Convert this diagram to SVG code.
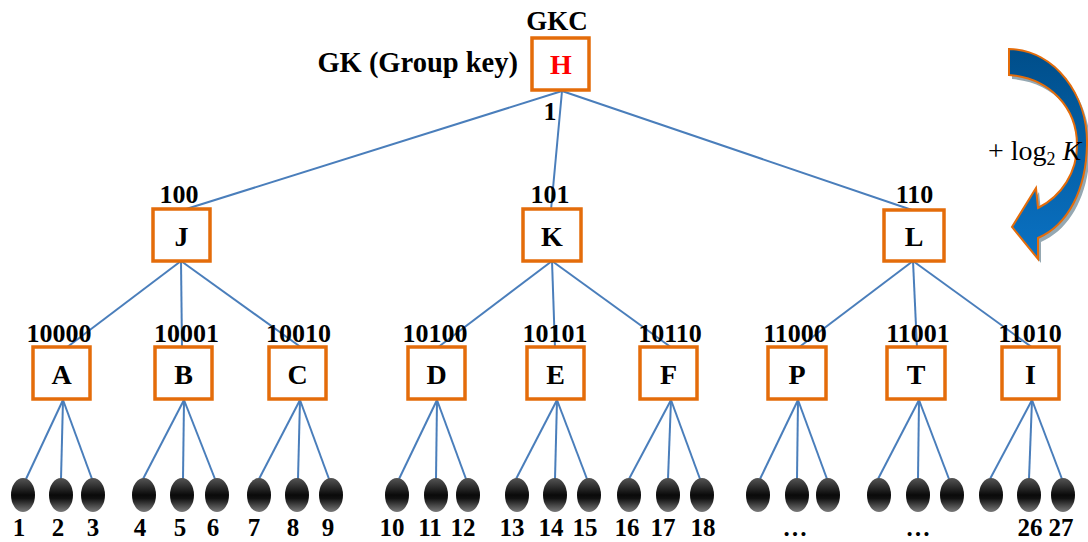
<svg xmlns="http://www.w3.org/2000/svg" width="1088" height="542" viewBox="0 0 1088 542">
<style>
.t{font-family:"Liberation Serif","Times New Roman",serif;font-weight:bold;font-size:26px;text-anchor:middle;fill:#000}
.n{font-size:28px}
.lb{font-size:25px}
.box{fill:#fff;stroke:#E46C0A;stroke-width:3.5}
.c{stroke:#4A7EBB;stroke-width:2;fill:none}
.leaf{fill:url(#lg)}
</style>
<defs>
<linearGradient id="lg" x1="0" y1="0" x2="0" y2="1">
<stop offset="0" stop-color="#555"/>
<stop offset="0.5" stop-color="#0a0a0a"/>
<stop offset="0.6" stop-color="#111"/>
<stop offset="1" stop-color="#7a7a7a"/>
</linearGradient>
<linearGradient id="ag" x1="0" y1="0" x2="0" y2="1">
<stop offset="0" stop-color="#004E8A"/>
<stop offset="1" stop-color="#0A72C4"/>
</linearGradient>
</defs>
<rect width="1088" height="542" fill="#fff"/>

<g id="connectors">
<line class="c" x1="562" y1="91" x2="183" y2="210"/>
<line class="c" x1="562" y1="91" x2="551" y2="210"/>
<line class="c" x1="562" y1="91" x2="912" y2="210"/>
<line class="c" x1="181" y1="261" x2="66" y2="348"/>
<line class="c" x1="181" y1="261" x2="182" y2="348"/>
<line class="c" x1="181" y1="261" x2="302" y2="348"/>
<line class="c" x1="552" y1="261" x2="437" y2="348"/>
<line class="c" x1="552" y1="261" x2="555" y2="348"/>
<line class="c" x1="552" y1="261" x2="672" y2="348"/>
<line class="c" x1="913" y1="261" x2="798" y2="348"/>
<line class="c" x1="913" y1="261" x2="917" y2="348"/>
<line class="c" x1="913" y1="261" x2="1033" y2="348"/>
<line class="c" x1="63" y1="400" x2="26" y2="479"/>
<line class="c" x1="63" y1="400" x2="61" y2="479"/>
<line class="c" x1="63" y1="400" x2="92" y2="479"/>
<line class="c" x1="184" y1="400" x2="143" y2="479"/>
<line class="c" x1="184" y1="400" x2="183" y2="479"/>
<line class="c" x1="184" y1="400" x2="215" y2="479"/>
<line class="c" x1="300" y1="400" x2="259" y2="479"/>
<line class="c" x1="300" y1="400" x2="298" y2="479"/>
<line class="c" x1="300" y1="400" x2="329" y2="479"/>
<line class="c" x1="437" y1="400" x2="399" y2="479"/>
<line class="c" x1="437" y1="400" x2="436" y2="479"/>
<line class="c" x1="437" y1="400" x2="466" y2="479"/>
<line class="c" x1="557" y1="400" x2="516" y2="479"/>
<line class="c" x1="557" y1="400" x2="555" y2="479"/>
<line class="c" x1="557" y1="400" x2="587" y2="479"/>
<line class="c" x1="671" y1="400" x2="629" y2="479"/>
<line class="c" x1="671" y1="400" x2="668" y2="479"/>
<line class="c" x1="671" y1="400" x2="700" y2="479"/>
<line class="c" x1="798" y1="400" x2="760" y2="479"/>
<line class="c" x1="798" y1="400" x2="797" y2="479"/>
<line class="c" x1="798" y1="400" x2="827" y2="479"/>
<line class="c" x1="919" y1="400" x2="878" y2="479"/>
<line class="c" x1="919" y1="400" x2="918" y2="479"/>
<line class="c" x1="919" y1="400" x2="949" y2="479"/>
<line class="c" x1="1032" y1="400" x2="990" y2="479"/>
<line class="c" x1="1032" y1="400" x2="1029" y2="479"/>
<line class="c" x1="1032" y1="400" x2="1062" y2="479"/>
</g>

<g id="node-H">
<rect class="box" x="532" y="38" width="57" height="52"/>
<text class="t n" x="561" y="74" style="fill:#FF0000">H</text>
<text class="t" x="557" y="30" style="font-size:27px">GKC</text>
<text class="t" x="518" y="72" style="font-size:28.5px;text-anchor:end">GK (Group key)</text>
<text class="t" x="550" y="120">1</text>
</g>

<g id="node-J"><rect class="box" x="153" y="209" width="57" height="52"/><text class="t n" x="181.5" y="246">J</text><text class="t" x="179" y="203">100</text></g>
<g id="node-K"><rect class="box" x="523" y="209" width="58" height="52"/><text class="t n" x="552" y="246">K</text><text class="t" x="550" y="203">101</text></g>
<g id="node-L"><rect class="box" x="884" y="210" width="60" height="51"/><text class="t n" x="914" y="246">L</text><text class="t" x="914.5" y="203">110</text></g>

<g id="node-A"><rect class="box" x="33" y="347" width="57" height="52"/><text class="t n" x="61.5" y="384">A</text><text class="t" x="59" y="342">10000</text></g>
<g id="node-B"><rect class="box" x="155" y="347" width="57" height="52"/><text class="t n" x="183.5" y="384">B</text><text class="t" x="186.5" y="342">10001</text></g>
<g id="node-C"><rect class="box" x="269" y="347" width="57" height="52"/><text class="t n" x="297.5" y="384">C</text><text class="t" x="298.5" y="342">10010</text></g>
<g id="node-D"><rect class="box" x="408" y="347" width="57" height="52"/><text class="t n" x="436.5" y="384">D</text><text class="t" x="435" y="342">10100</text></g>
<g id="node-E"><rect class="box" x="527" y="347" width="57" height="52"/><text class="t n" x="555.5" y="384">E</text><text class="t" x="555" y="342">10101</text></g>
<g id="node-F"><rect class="box" x="640" y="347" width="57" height="52"/><text class="t n" x="668.5" y="384">F</text><text class="t" x="670" y="342">10110</text></g>
<g id="node-P"><rect class="box" x="768" y="347" width="58" height="52"/><text class="t n" x="797" y="384">P</text><text class="t" x="795" y="342">11000</text></g>
<g id="node-T"><rect class="box" x="887" y="347" width="58" height="52"/><text class="t n" x="916" y="384">T</text><text class="t" x="918" y="342">11001</text></g>
<g id="node-I"><rect class="box" x="1002" y="347" width="57" height="52"/><text class="t n" x="1030.5" y="384">I</text><text class="t" x="1030" y="342">11010</text></g>

<g id="leaves">
<ellipse class="leaf" cx="23" cy="495" rx="12" ry="17"/><ellipse class="leaf" cx="61" cy="495" rx="12" ry="17"/><ellipse class="leaf" cx="93" cy="495" rx="12" ry="17"/>
<ellipse class="leaf" cx="144" cy="495" rx="12" ry="17"/><ellipse class="leaf" cx="182" cy="495" rx="12" ry="17"/><ellipse class="leaf" cx="217" cy="495" rx="12" ry="17"/>
<ellipse class="leaf" cx="259" cy="495" rx="12" ry="17"/><ellipse class="leaf" cx="297" cy="495" rx="12" ry="17"/><ellipse class="leaf" cx="331" cy="495" rx="12" ry="17"/>
<ellipse class="leaf" cx="397" cy="495" rx="12" ry="17"/><ellipse class="leaf" cx="436" cy="495" rx="12" ry="17"/><ellipse class="leaf" cx="468" cy="495" rx="12" ry="17"/>
<ellipse class="leaf" cx="517" cy="495" rx="12" ry="17"/><ellipse class="leaf" cx="555" cy="495" rx="12" ry="17"/><ellipse class="leaf" cx="589" cy="495" rx="12" ry="17"/>
<ellipse class="leaf" cx="629" cy="495" rx="12" ry="17"/><ellipse class="leaf" cx="668" cy="495" rx="12" ry="17"/><ellipse class="leaf" cx="702" cy="495" rx="12" ry="17"/>
<ellipse class="leaf" cx="758" cy="495" rx="12" ry="17"/><ellipse class="leaf" cx="797" cy="495" rx="12" ry="17"/><ellipse class="leaf" cx="828" cy="495" rx="12" ry="17"/>
<ellipse class="leaf" cx="879" cy="495" rx="12" ry="17"/><ellipse class="leaf" cx="918" cy="495" rx="12" ry="17"/><ellipse class="leaf" cx="952" cy="495" rx="12" ry="17"/>
<ellipse class="leaf" cx="991" cy="495" rx="12" ry="17"/><ellipse class="leaf" cx="1029" cy="495" rx="12" ry="17"/><ellipse class="leaf" cx="1063" cy="495" rx="12" ry="17"/>
</g>

<g id="leaf-labels">
<text class="t lb" x="19" y="536">1</text><text class="t lb" x="58" y="536">2</text><text class="t lb" x="93" y="536">3</text>
<text class="t lb" x="140" y="536">4</text><text class="t lb" x="180" y="536">5</text><text class="t lb" x="213" y="536">6</text>
<text class="t lb" x="254" y="536">7</text><text class="t lb" x="293" y="536">8</text><text class="t lb" x="328" y="536">9</text>
<text class="t lb" x="392" y="536">10</text><text class="t lb" x="430" y="536">11</text><text class="t lb" x="463" y="536">12</text>
<text class="t lb" x="512" y="536">13</text><text class="t lb" x="551" y="536">14</text><text class="t lb" x="585" y="536">15</text>
<text class="t lb" x="627" y="536">16</text><text class="t lb" x="663" y="536">17</text><text class="t lb" x="703" y="536">18</text>
<text class="t lb" x="795" y="536">…</text><text class="t lb" x="918" y="536">…</text>
<text class="t lb" x="1030" y="536">26</text><text class="t lb" x="1061" y="536">27</text>
</g>

<g id="arrow">
<path transform="translate(3,4)" fill="#95A8B2" d="M1009,49 C1055,50 1088,95 1087,145 C1086,190 1068,225 1038,238 L1038,259 L1012,227 L1036,188 L1038,208 C1062,196 1077,172 1077,145 C1077,108 1050,78 1009,75 Z"/>
<path fill="url(#ag)" stroke="#E46C0A" stroke-width="2" stroke-linejoin="miter" d="M1009,49 C1055,50 1088,95 1087,145 C1086,190 1068,225 1038,238 L1038,259 L1012,227 L1036,188 L1038,208 C1062,196 1077,172 1077,145 C1077,108 1050,78 1009,75 Z"/>
<text x="988" y="160" style="font-family:'Liberation Serif','Times New Roman',serif;font-size:28px;fill:#000">+ log<tspan font-size="18" dy="5">2</tspan><tspan dy="-5"> </tspan><tspan font-style="italic">K</tspan></text>
</g>
</svg>
